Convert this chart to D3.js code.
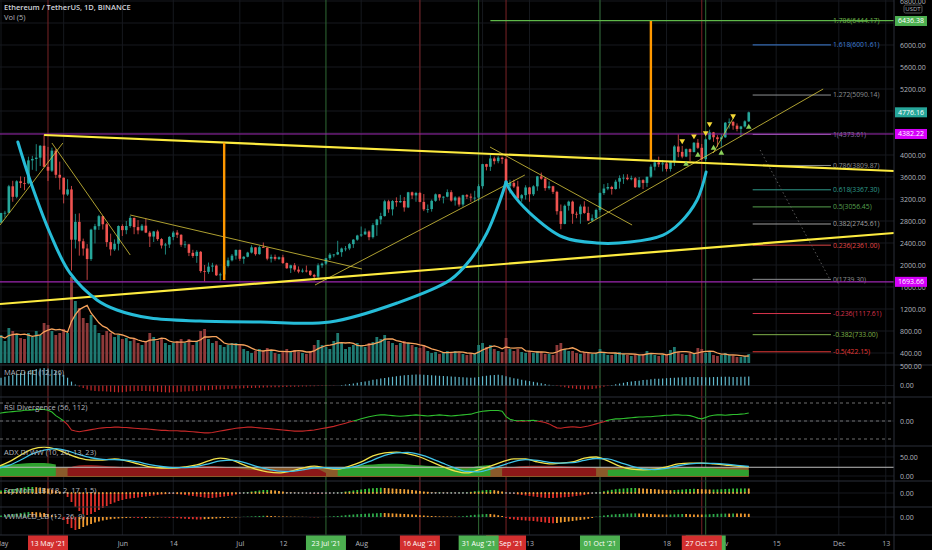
<!DOCTYPE html>
<html lang="en">
<head>
<meta charset="UTF-8">
<title>ETHUSDT 1D</title>
<style>
  body { margin: 0; background: #000; }
  svg { display: block; font-family: "Open Sans", "DejaVu Sans", sans-serif; }
</style>
</head>
<body>
<svg id="chart" width="932" height="550"></svg>
<script src="https://d3js.org/d3.v7.min.js"></script>
<script>
// ---- data ----
const firstDay = "2021-04-30";
const firstOpen = 2757;
const closes = [2772,
  2945,2949,3431,3240,3522,3490,3484,3902,3928,3952,4168,3785,3715,4079,3640,3587,3282,3374,2460,2784,2431,2300,2108,2643,2706,2888,2741,2416,2283,2387,2709,
  2634,2709,2856,2689,2630,2715,2589,2517,2610,2471,2355,2373,2510,2590,2549,2368,2375,2221,2164,2240,1890,1875,1971,1990,1813,1829,1982,2085,2170,2275,
  2113,2150,2226,2321,2197,2324,2316,2115,2147,2111,2140,2035,1941,1995,1916,1880,1898,1894,1820,1788,1995,2025,2123,2188,2191,2233,2300,2300,2380,2461,2536,
  2556,2608,2506,2725,2827,2890,3158,3012,3163,3141,3164,3047,3322,3265,3310,3147,3012,3017,3167,3285,3225,3242,3324,3172,3227,3100,3270,3244,3224,3225,3433,
  3834,3786,3937,3888,3952,3926,3431,3493,3427,3211,3270,3410,3286,3430,3612,3569,3398,3432,3330,2978,2747,3077,3152,2931,2924,3063,2947,2806,2850,3001,
  3308,3390,3418,3382,3515,3580,3587,3560,3577,3415,3543,3492,3605,3788,3866,3830,3847,3747,3876,4155,4057,3972,4106,4053,4223,4131,3925,4284,4411,4322,4288,
  4322,4587,4603,4534,4474,4519,4612,4776.16];
const highs = [2800,
  2950,2985,3457,3531,3542,3611,3600,3970,3985,4197,4180,4372,4147,4134,4112,3880,3590,3560,3437,2930,2940,2480,2380,2660,2748,2912,2890,2765,2570,2465,2720,
  2740,2800,2893,2862,2817,2745,2845,2620,2620,2640,2488,2400,2528,2620,2634,2560,2435,2385,2276,2270,2255,2000,2045,2040,2010,1860,1990,2135,2200,2280,
  2280,2160,2240,2360,2323,2350,2409,2319,2190,2190,2155,2185,2045,2005,2035,1975,1935,1990,1905,1840,2030,2045,2130,2220,2200,2440,2317,2345,2400,2470,2550,
  2700,2665,2630,2760,2840,2950,3185,3185,3180,3230,3275,3235,3330,3335,3330,3330,3290,3100,3190,3300,3290,3250,3375,3360,3250,3250,3280,3290,3300,3350,3470,
  3840,3840,4027,3970,3980,3970,3950,3550,3550,3530,3290,3450,3420,3450,3620,3680,3600,3520,3440,3350,3100,3100,3170,3170,2970,3100,3160,3060,2920,3025,
  3320,3470,3490,3440,3550,3630,3650,3650,3625,3600,3600,3560,3600,3830,3920,3970,3910,3880,3880,4180,4375,4165,4120,4120,4235,4290,4200,4300,4460,4420,4360,
  4380,4600,4665,4615,4575,4530,4630,4790];
const lows = [2722,
  2760,2860,2945,3150,3213,3400,3360,3465,3731,3706,3800,3800,3528,3691,3580,3370,3120,3257,1900,2300,2170,2170,1730,2075,2392,2638,2645,2330,2170,2255,2265,
  2528,2560,2678,2560,2559,2616,2580,2327,2418,2440,2300,2190,2310,2450,2490,2330,2310,2162,2130,2039,1859,1700,1840,1875,1800,1720,1810,1955,2065,2100,
  2075,2022,2140,2210,2170,2187,2310,2085,2045,2080,2090,2020,1930,1855,1880,1850,1860,1865,1800,1718,1760,1950,2000,2090,2140,2180,2150,2250,2270,2310,2440,
  2510,2550,2450,2480,2530,2740,2880,2950,2900,3060,3130,2970,3035,3200,3150,3140,2980,2950,2970,3150,3170,3120,3230,3150,3080,3060,3060,3200,3150,3150,3160,
  3387,3720,3710,3830,3850,3840,3000,3300,3400,3180,3150,3190,3150,3255,3350,3550,3350,3370,3290,2915,2650,2740,2990,2750,2850,2750,2930,2800,2790,2840,
  2965,3275,3360,3280,3370,3390,3475,3540,3540,3400,3400,3380,3420,3580,3720,3780,3700,3700,3700,3800,3960,3940,3960,3890,4050,4110,3900,3890,4270,4240,4150,
  4150,4310,4480,4460,4430,4330,4500,4600];
// daily volume, thousand ETH
const volumes = [1125,1260,990,1575,1440,1260,1125,1080,1350,1170,1440,1260,1800,
  1710,1440,1260,1350,1530,1350,3870,2790,2475,2025,1800,2160,1710,1350,1260,1440,1350,1170,1260,
  1080,1125,990,1080,900,810,990,1350,1170,990,1080,900,810,900,990,1080,
  900,1080,810,990,1440,1530,1080,900,990,810,720,810,900,900,810,
  630,540,450,540,630,540,675,540,450,405,540,630,540,585,495,450,405,540,810,
  1035,810,720,630,990,1350,900,630,720,810,900,810,720,900,945,
  1170,1080,1260,990,900,810,900,990,900,810,720,675,810,540,450,495,
  405,450,540,495,540,450,405,360,450,405,
  810,900,720,810,630,540,495,1125,630,540,630,495,450,540,
  450,540,495,405,405,360,810,900,630,540,540,450,405,495,450,405,
  450,630,450,360,360,450,495,405,360,315,405,360,405,540,450,360,315,360,
  360,585,720,495,405,360,450,405,675,630,450,
  495,360,315,360,450,360,315,270,270,315,405];

// MACD 4C histogram
const macdHist = [175,200,225,250,275,300,325,350,375,400,425,438,450,
  438,413,375,325,275,200,100,25,-25,-63,-100,-125,-138,-150,
  -150,-155,-163,-170,-175,-170,-163,-150,-145,-138,-138,-143,-150,-155,-163,-170,-175,-180,-175,-170,-163,-155,-150,-145,-138,-130,-125,-120,-113,-105,-100,-95,-90,-85,
  -80,-75,-70,-65,-63,-60,-55,-50,-50,-45,-45,-43,-40,-38,-35,-33,-30,
  -25,-23,-20,-18,-15,-13,-10,-8,-5,-3,13,25,
  38,50,70,88,105,125,145,163,180,195,210,225,238,250,260,268,275,280,
  280,275,270,263,255,250,245,238,230,225,220,213,205,200,
  205,220,238,250,263,270,275,
  263,238,213,188,170,150,130,113,95,75,55,38,20,5,
  -13,-25,-45,-63,-75,-88,-95,-100,-95,-88,-75,-55,-35,-15,
  13,30,50,70,88,100,113,125,138,150,163,170,175,
  180,188,195,200,205,210,213,215,220,220,215,210,213,218,220,225,225,223,220,220,223,225,230];

// RSI Divergence (56, 112)
const rsiDiv = [20,22,24,25,26,27,28,30,30,31,32,33,32,30,25,15,8,0,-10,-25,
  -28,-30,-28,-26,-24,-22,-20,-19,-18,-18,-17,-17,-18,-18,-19,-20,
  -21,-22,-22,-23,-24,-25,-26,-26,-27,-27,-27,-28,-28,-29,-30,-31,-32,-33,-33,-32,
  -30,-28,-26,-24,-22,-20,-19,-18,-17,-17,-18,-19,-20,-21,-22,-23,-24,-25,-26,-27,-28,-28,
  -28,-27,-26,-25,-23,-21,-19,-17,-15,-12,-9,-6,-3,0,3,
  6,9,12,14,16,17,17,
  16,15,14,13,14,15,16,17,16,15,14,15,16,17,16,15,14,15,16,17,18,19,
  22,25,27,28,29,29,29,27,12,5,2,0,1,0,
  1,2,0,-2,-4,-8,-14,-19,-20,-18,-17,-16,-17,-18,-16,-14,-11,-8,-5,-2,2,
  4,6,6,7,8,9,10,11,11,12,12,13,14,15,16,16,17,17,16,16,15,12,8,6,
  10,14,16,17,17,16,17,18,18,19,20,22];

// ADX DI WW, read every 3rd day
const adxStep = 3;
const adxLine = [24,37,55,71,76,71,58,47,42,42,45,40,32,24,21,21,24,29,40,47,42,29,18,11,8,13,21,26,21,18,26,37,53,61,63,58,50,37,24,13,8,16,26,37,45,45,37,32,34,37,47,50,40,26,18,16,18,24,32,34,34,32,29,26,24];
const adxSignal = [20,28,42,58,68,72,66,56,48,44,43,42,37,30,25,22,22,25,32,40,42,36,26,18,13,12,16,21,22,20,22,30,42,54,61,62,56,46,33,21,12,11,18,28,38,43,41,36,34,35,41,46,45,36,26,19,17,20,27,32,34,33,31,28,25];
const diSpread = [28,30,32,34,34,30,-20,-28,-29,-27,-25,-23,-22,-21,-20,-20,-22,-24,-26,-25,-22,-18,-16,-15,-15,-16,-18,-20,-8,18,24,28,30,32,32,30,28,26,24,22,20,26,29,-20,-24,-26,-27,-27,-26,-25,-24,-20,16,18,20,20,19,18,20,22,22,20,18,17,16];
const adxKeyLevel = 23;

// SqzMom_LB (18, 2, 17, 1.5)
const sqzMom = [20,25,30,35,40,45,50,55,60,60,58,55,50,45,35,25,15,5,
  -40,-90,-140,-180,-210,-220,-210,-190,
  -170,-150,-130,-110,-95,-80,-70,-60,-55,-50,-45,
  -40,-35,-30,-25,-20,-15,-12,-10,-10,-12,-15,-20,
  -25,-30,-35,-40,-45,-50,-50,-45,-40,-35,-30,-25,-15,-5,
  5,10,15,20,25,30,30,28,25,20,15,10,8,5,3,
  2,-2,-5,-8,-10,-8,-5,-2,2,5,10,
  15,20,25,30,35,40,45,48,50,52,50,48,45,42,40,38,35,30,25,20,15,
  12,10,8,8,6,5,5,4,4,5,8,12,18,
  22,26,30,30,28,22,15,
  5,-5,-10,-15,-20,-25,-30,-35,-40,-45,-48,-50,-50,-48,-45,-42,-40,-35,-30,-25,-20,-12,-5,
  5,10,18,25,32,38,42,45,48,50,50,48,45,42,40,38,35,32,30,28,30,32,35,38,40,42,40,38,36,35,35,36,38,40,42,44,45,46,46,45];

// VWMACD_LB (12, 26, 9)
const vwmacdHist = [10,15,20,25,30,35,40,45,50,50,48,45,40,30,20,10,0,
  -30,-70,-110,-130,-120,-100,-85,-70,-55,-45,-35,-28,-22,-18,
  -15,-12,-10,-8,-8,-10,-12,-10,-8,-6,-5,-5,-6,-8,-10,-12,-15,-18,
  -20,-22,-25,-25,-22,-20,-18,-15,-12,-10,-8,-6,-4,-2,
  2,4,6,8,10,12,12,10,8,6,5,4,3,3,2,
  2,1,-2,-3,-2,0,2,5,8,
  10,14,18,22,25,28,30,32,34,36,38,40,40,38,36,34,32,30,28,25,22,18,15,12,
  10,8,6,5,5,4,4,5,8,12,18,22,
  25,28,30,30,25,18,10,
  -10,-20,-25,-30,-32,-35,-38,-40,-45,-50,-55,-60,-62,-60,-55,-50,-45,-40,-35,-30,-25,-18,-10,
  2,8,14,20,25,28,30,32,34,35,36,35,34,32,30,28,26,25,24,25,26,28,30,30,28,26,25,25,26,28,30,32,33,34,34,35,35,34,33,32];

// price scale: grid at every 400, labels where no badge hides them
const priceGrid = [400,800,1200,1600,2000,2400,2800,3200,3600,4000,4400,4800,5200,5600,6000,6400,6800];
const priceLabels = [400,800,1200,1600,2000,2400,2800,3200,3600,4000,5200,5600,6000,6800];
// grid ticks of the time scale; some of their labels sit under the date boxes
const gridDates = ["2021-05-01","2021-05-17","2021-06-01","2021-06-14","2021-07-01","2021-07-12","2021-08-01","2021-08-16",
  "2021-09-01","2021-09-13","2021-10-01","2021-10-18","2021-11-01","2021-11-15","2021-12-01","2021-12-13"];
const timeLabelDates = ["2021-05-01","2021-06-01","2021-06-14","2021-07-01","2021-07-12","2021-08-01",
  "2021-09-13","2021-10-18","2021-11-01","2021-11-15","2021-12-01","2021-12-13"];
const timeLabels = ["May","Jun","14","Jul","12","Aug","13","18","Nov","15","Dec","13"];

const eventDates = ["2021-05-13","2021-07-23","2021-08-16","2021-09-07","2021-08-31","2021-10-01","2021-10-28","2021-10-27"];
const eventLabels = ["13 May '21","23 Jul '21","16 Aug '21","07 Sep '21","31 Aug '21","01 Oct '21","28 Oct '21","27 Oct '21"];
const eventKinds = ["down","up","down","down","up","up","up","down"];

const fibRatios = [1.786, 1.618, 1.272, 1, 0.786, 0.618, 0.5, 0.382, 0.236, 0, -0.236, -0.382, -0.5];
const fibPrices = [6444.17, 6001.61, 5090.14, 4373.61, 3809.87, 3367.30, 3056.45, 2745.61, 2361.00, 1739.30, 1117.61, 733.00, 422.15];
const fibSpan = [193, 213];          // day offsets of the fib drawing
const fibTopFrom = 126;              // 1.786 level is drawn from here

const levelPrices = [4382.22, 1693.66];
const lastPrice = 4776.16;
const fibBadgePrice = 6436.38;

// drawings: [dayOffset, price] pairs
const channelLines = [[[12, 4364], [229.1, 3709]], [[0.74, 1291], [229.1, 2582]]];
const trendLines = [
  [[0.74, 2727], [16.8, 4218]],
  [[14.0, 4218], [34.0, 2182]],
  [[34.0, 2909], [93.2, 1927]],
  [[81.2, 1636], [134.8, 3636]],
  [[125.9, 4145], [162.2, 2727]],
  [[150.9, 2745], [211.0, 5200]],
  [[182.9, 4036], [188.5, 4727]]];
const projection = [[194.9, 4091], [212.8, 1727]];
const cupLeft = [[5.3,4236],[8.4,3545],[13.5,2582],[18.6,1855],[25.5,1364],[30.6,1182],[39.1,1036],[51.8,982],
  [67.2,964],[85.0,964],[102.2,1309],[115.7,1727],[120.8,2091],[125.1,2582],[128.5,3182],[130.0,3509]];
const cupRight = [[130.0,3509],[131.0,3364],[136.1,2945],[144.5,2509],[153.2,2400],[161.7,2418],[170.1,2545],
  [174.4,2764],[178.8,3182],[181.1,3691]];
const measureBars = [[58, 4224, 1727], [167, 6436, 3909]];
const sellMarks = [[175, 4255], [178, 4345], [181, 4400], [182, 4564], [188, 4709]];
const buyMarks = [[176, 3836], [179, 4000], [183, 4127], [185, 4036], [192, 4509]];

// ---- styles ----
const W = 932, plotW = 894;
const upC = "#26a69a", downC = "#ef5350";
const gridC = "#16191e", sepC = "#2a2e39", textC = "#b2b5be";
const fibColors = ["#6fb94a","#3f7fd6","#8d9092","#8d7aa8","#8d9092","#2f9c8c","#56a04e","#a0a0a0","#e04848","#8d9092","#d8344c","#7fb14a","#e53935"];
const boxW = 40;

const parse = d3.utcParse("%Y-%m-%d");
const day0 = parse(firstDay);
const at = d => new Date(day0.getTime() + d * 864e5);

const bars = closes.map((c, i) => {
  const o = i ? closes[i - 1] : firstOpen;
  return { t: at(i), o, c, h: Math.max(highs[i], o, c), l: Math.min(lows[i], o, c), v: volumes[i] };
});

const x = d3.scaleUtc().domain([at(0.74), at(229.1)]).range([0, plotW]);
const y = d3.scaleLinear().domain([0, 6000]).range([375, 45]);
const yVol = d3.scaleLinear().domain([0, 4500]).range([363, 263]);
const yMacd = d3.scaleLinear().domain([0, 500]).range([385.5, 366]);
const yRsi = d3.scaleLinear().domain([-50, 50]).range([439, 403]);
const yAdx = d3.scaleLinear().domain([0, 50]).range([476, 457]);
const ySqz = d3.scaleLinear().domain([-250, 150]).range([518, 478]);
const yVw = d3.scaleLinear().domain([-200, 150]).range([537, 502]);

const svg = d3.select("#chart");
svg.append("rect").attr("width", W).attr("height", 550).attr("fill", "#000");

const defs = svg.append("defs");
defs.append("clipPath").attr("id", "mainClip").append("rect").attr("width", plotW).attr("height", 365);
defs.append("clipPath").attr("id", "rsiUp").append("rect").attr("y", 397).attr("width", plotW).attr("height", yRsi(0) - 397);
defs.append("clipPath").attr("id", "rsiDn").append("rect").attr("y", yRsi(0)).attr("width", plotW).attr("height", 446 - yRsi(0));
defs.append("clipPath").attr("id", "plotClip").append("rect").attr("width", plotW).attr("height", 535);

// grid
const grid = svg.append("g").attr("clip-path", "url(#plotClip)");
grid.selectAll(".vg").data(gridDates).join("line")
  .attr("x1", d => x(parse(d))).attr("x2", d => x(parse(d)))
  .attr("y1", 0).attr("y2", 535).attr("stroke", gridC);
grid.selectAll(".hg").data(priceGrid).join("line")
  .attr("x1", 0).attr("x2", plotW).attr("y1", y).attr("y2", y).attr("stroke", gridC);
[[yMacd, 0], [yRsi, 0], [yAdx, 50], [yAdx, 0], [ySqz, 0], [yVw, 0]].forEach(([s, v]) => {
  grid.append("line").attr("x1", 0).attr("x2", plotW).attr("y1", s(v)).attr("y2", s(v)).attr("stroke", gridC);
});

// event verticals
grid.selectAll(".ev").data(eventDates).join("line")
  .attr("x1", d => x(parse(d))).attr("x2", d => x(parse(d)))
  .attr("y1", 0).attr("y2", 535)
  .attr("stroke", (d, i) => eventKinds[i] === "up" ? "#2f6a34" : "#7a2326").attr("stroke-width", 1);

// ---- main pane ----
const main = svg.append("g").attr("clip-path", "url(#mainClip)");

main.selectAll(".vol").data(bars).join("rect")
  .attr("x", d => x(d.t) - 1.4).attr("width", 2.8)
  .attr("y", d => yVol(d.v)).attr("height", d => yVol(0) - yVol(d.v))
  .attr("fill", d => d.c >= d.o ? "#1f7a72" : "#8e3a3a");

const volMA = volumes.map((v, i) => d3.mean(volumes.slice(Math.max(0, i - 4), i + 1)));
main.append("path").datum(volMA)
  .attr("d", d3.line().x((v, i) => x(at(i))).y(v => yVol(v)))
  .attr("fill", "none").attr("stroke", "#f7a35c").attr("stroke-width", 1.3);

main.selectAll(".wick").data(bars).join("line")
  .attr("x1", d => x(d.t)).attr("x2", d => x(d.t))
  .attr("y1", d => y(d.h)).attr("y2", d => y(d.l))
  .attr("stroke", d => d.c >= d.o ? upC : downC).attr("stroke-width", 0.8);
main.selectAll(".body").data(bars).join("rect")
  .attr("x", d => x(d.t) - 1.3).attr("width", 2.6)
  .attr("y", d => y(Math.max(d.o, d.c)))
  .attr("height", d => Math.max(0.8, Math.abs(y(d.o) - y(d.c))))
  .attr("fill", d => d.c >= d.o ? upC : downC);

// fib retracement
main.append("line")
  .attr("x1", x(at(fibTopFrom))).attr("x2", plotW)
  .attr("y1", y(fibPrices[0])).attr("y2", y(fibPrices[0]))
  .attr("stroke", "#5fb84a").attr("stroke-width", 1.2);
main.selectAll(".fib").data(fibPrices.slice(1)).join("line")
  .attr("x1", x(at(fibSpan[0]))).attr("x2", x(at(fibSpan[1])))
  .attr("y1", y).attr("y2", y)
  .attr("stroke", (d, i) => fibColors[i + 1]).attr("stroke-width", 1);
main.selectAll(".fibt").data(fibPrices).join("text")
  .attr("x", x(at(fibSpan[1])) + 2).attr("y", y).attr("dy", "0.35em")
  .attr("font-size", 6.8).attr("fill", (d, i) => fibColors[i])
  .text((d, i) => `${fibRatios[i]}(${d.toFixed(2)})`);

// horizontal levels
main.selectAll(".lvl").data(levelPrices).join("line")
  .attr("x1", 0).attr("x2", plotW).attr("y1", y).attr("y2", y)
  .attr("stroke", "#9c27b0").attr("stroke-width", 1.2);

const pt = d3.line().x(d => x(at(d[0]))).y(d => y(d[1]));
main.selectAll(".tl").data(trendLines).join("path")
  .attr("d", pt).attr("stroke", "#d9c83c").attr("stroke-width", 0.8).attr("fill", "none");
main.append("path").attr("d", pt(projection))
  .attr("stroke", "#5a5a5a").attr("stroke-width", 1).attr("stroke-dasharray", "1.5,2.5").attr("fill", "none");
main.selectAll(".ch").data(channelLines).join("path")
  .attr("d", pt).attr("stroke", "#fdeb3f").attr("stroke-width", 2.2).attr("fill", "none");

const cup = d3.line().x(d => x(at(d[0]))).y(d => y(d[1])).curve(d3.curveCatmullRom.alpha(0.5));
[cupLeft, cupRight].forEach(c => main.append("path").attr("d", cup(c))
  .attr("fill", "none").attr("stroke", "#26bcd8").attr("stroke-width", 3).attr("stroke-linecap", "round"));

main.selectAll(".mb").data(measureBars).join("line")
  .attr("x1", d => x(at(d[0]))).attr("x2", d => x(at(d[0])))
  .attr("y1", d => y(d[1])).attr("y2", d => y(d[2]))
  .attr("stroke", "#ff9800").attr("stroke-width", 2.4);

const tri = d3.symbol().type(d3.symbolTriangle).size(14);
main.selectAll(".sell").data(sellMarks).join("path")
  .attr("d", tri).attr("fill", "#f5d835")
  .attr("transform", d => `translate(${x(at(d[0]))},${y(d[1])}) rotate(180)`);
main.selectAll(".buy").data(buyMarks).join("path")
  .attr("d", tri).attr("fill", "#8bd05a")
  .attr("transform", d => `translate(${x(at(d[0]))},${y(d[1])})`);

// ---- indicator panes ----
const ind = svg.append("g").attr("clip-path", "url(#plotClip)");
const firstX = Math.max(0, x(at(0))), lastX = x(at(closes.length - 1));

// MACD histogram
ind.selectAll(".macd").data(macdHist).join("line")
  .attr("x1", (v, i) => x(at(i))).attr("x2", (v, i) => x(at(i)))
  .attr("y1", yMacd(0)).attr("y2", v => yMacd(v))
  .attr("stroke", v => v >= 0 ? "#5fb8cc" : "#c62828").attr("stroke-width", 1.2);

// RSI divergence
[-50, 0, 50].forEach(v => ind.append("line")
  .attr("x1", 0).attr("x2", plotW).attr("y1", yRsi(v)).attr("y2", yRsi(v))
  .attr("stroke", "#8a8a8a").attr("stroke-dasharray", "3,3").attr("stroke-width", 0.8));
const rsiPath = d3.line().x((v, i) => x(at(i))).y(v => yRsi(v))(rsiDiv);
ind.append("path").attr("d", rsiPath).attr("clip-path", "url(#rsiUp)")
  .attr("fill", "none").attr("stroke", "#2fbf2f").attr("stroke-width", 1.1);
ind.append("path").attr("d", rsiPath).attr("clip-path", "url(#rsiDn)")
  .attr("fill", "none").attr("stroke", "#c62828").attr("stroke-width", 1.1);

// ADX DI
const ax = (v, k) => x(at(k * adxStep));
ind.append("rect").attr("x", firstX).attr("width", lastX - firstX)
  .attr("y", yAdx(adxKeyLevel)).attr("height", yAdx(0) - yAdx(adxKeyLevel) + 1)
  .attr("fill", "#8a5a2a");
ind.append("path").datum(diSpread)
  .attr("d", d3.area().defined(v => v >= 0).x(ax).y0(yAdx(0)).y1(v => yAdx(v)).curve(d3.curveMonotoneX))
  .attr("fill", "#2fa12f");
ind.append("path").datum(diSpread)
  .attr("d", d3.area().defined(v => v <= 0).x(ax).y0(yAdx(0)).y1(v => yAdx(-v)).curve(d3.curveMonotoneX))
  .attr("fill", "#8c1818");
ind.append("line").attr("x1", 0).attr("x2", plotW)
  .attr("y1", yAdx(adxKeyLevel)).attr("y2", yAdx(adxKeyLevel))
  .attr("stroke", "#bdbdbd").attr("stroke-width", 1);
const adxPath = d3.line().x(ax).y(v => yAdx(v)).curve(d3.curveMonotoneX);
ind.append("path").datum(adxLine).attr("d", adxPath)
  .attr("fill", "none").attr("stroke", "#f2e24a").attr("stroke-width", 1.3);
ind.append("path").datum(adxSignal).attr("d", adxPath)
  .attr("fill", "none").attr("stroke", "#3fc4ea").attr("stroke-width", 1.3);

// squeeze momentum
ind.selectAll(".sqz").data(sqzMom).join("line")
  .attr("x1", (v, i) => x(at(i))).attr("x2", (v, i) => x(at(i)))
  .attr("y1", ySqz(0)).attr("y2", v => ySqz(v))
  .attr("stroke", (v, i) => v < 0 ? "#e0302a" : (i && v < sqzMom[i - 1] ? "#f0a43a" : "#3cc43c"))
  .attr("stroke-width", 1.8);
ind.selectAll(".sqd").data(sqzMom).join("circle")
  .attr("cx", (v, i) => x(at(i))).attr("cy", ySqz(0)).attr("r", 0.9)
  .attr("fill", v => Math.abs(v) < 12 ? "#9a9a9a" : "#f0a43a");

// VWMACD
ind.selectAll(".vw").data(vwmacdHist).join("line")
  .attr("x1", (v, i) => x(at(i))).attr("x2", (v, i) => x(at(i)))
  .attr("y1", yVw(0)).attr("y2", v => yVw(v))
  .attr("stroke", (v, i) => {
    const rising = i && v > vwmacdHist[i - 1];
    if (v >= 0) return rising ? "#2ea84a" : "#f29a2e";
    return rising ? "#f29a2e" : "#e0302a";
  })
  .attr("stroke-width", 1.8);

// pane separators and price scale border
[365, 397, 446, 481, 507, 535].forEach(v => svg.append("line")
  .attr("x1", 0).attr("x2", W).attr("y1", v).attr("y2", v).attr("stroke", sepC));
svg.append("line").attr("x1", plotW).attr("x2", plotW).attr("y1", 0).attr("y2", 550).attr("stroke", sepC);

// ---- axes ----
const fmt = d3.format(".2f");
function rightAxis(scale, ticks) {
  svg.append("g").attr("transform", `translate(${plotW},0)`)
    .call(d3.axisRight(scale).tickValues(ticks).tickSize(0).tickPadding(6).tickFormat(fmt))
    .call(g => g.select(".domain").remove())
    .attr("font-size", 7).attr("font-family", null).attr("color", textC);
}
rightAxis(y, priceLabels);
rightAxis(yMacd, [0, 500]);
rightAxis(yRsi, [0]);
rightAxis(yAdx, [0, 50]);
rightAxis(ySqz, [0]);
rightAxis(yVw, [0]);

svg.append("g").attr("transform", "translate(0,538)")
  .call(d3.axisBottom(x).tickValues(timeLabelDates.map(parse)).tickSize(0).tickPadding(3)
    .tickFormat((d, i) => timeLabels[i]))
  .call(g => g.select(".domain").remove())
  .attr("font-size", 7).attr("font-family", null).attr("color", textC);

// event date boxes; a box drawn later hides the part of an earlier one it covers
const evG = svg.append("g");
const boxX = eventDates.map(d => x(parse(d)));
eventDates.forEach((d, i) => {
  const cx = boxX[i];
  let left = cx - boxW / 2, right = cx + boxW / 2;
  boxX.slice(i + 1).forEach(o => {
    if (Math.abs(o - cx) < boxW) {
      if (o < cx) left = Math.max(left, o + boxW / 2);
      else right = Math.min(right, o - boxW / 2);
    }
  });
  evG.append("rect").attr("x", cx - boxW / 2).attr("y", 535.5).attr("width", boxW).attr("height", 14.5)
    .attr("fill", eventKinds[i] === "up" ? "#4caf50" : "#d32f2f");
  defs.append("clipPath").attr("id", "ev" + i).append("rect")
    .attr("x", left).attr("y", 535).attr("width", Math.max(0, right - left)).attr("height", 15);
  if (right - left > boxW / 3) {
    evG.append("text").attr("x", cx).attr("y", 545.5).attr("text-anchor", "middle")
      .attr("clip-path", `url(#ev${i})`)
      .attr("font-size", 7).attr("fill", "#fff").text(eventLabels[i]);
  }
});

// price badges
const badges = [[fibBadgePrice, "#4caf50"], [lastPrice, "#26a69a"], [levelPrices[0], "#d500f9"], [levelPrices[1], "#d500f9"]];
badges.forEach(([p, c]) => {
  svg.append("rect").attr("x", plotW + 1).attr("y", y(p) - 5).attr("width", 32).attr("height", 10).attr("fill", c);
  svg.append("text").attr("x", plotW + 17).attr("y", y(p)).attr("dy", "0.35em").attr("text-anchor", "middle")
    .attr("font-size", 7).attr("fill", "#fff").text(fmt(p));
});
svg.append("rect").attr("x", 904).attr("y", 5).attr("width", 18).attr("height", 8)
  .attr("fill", "#000").attr("stroke", "#555").attr("rx", 1.5);
svg.append("text").attr("x", 913).attr("y", 11.3).attr("text-anchor", "middle")
  .attr("font-size", 6).attr("fill", textC).text("USDT");

// legends
const legend = [[4, 10, "Ethereum / TetherUS, 1D, BINANCE", "#d1d4dc", 600],
  [4, 20, "Vol (5)", textC, 400],
  [4, 375, "MACD 4C (12, 26)", textC, 400],
  [4, 410, "RSI Divergence (56, 112)", textC, 400],
  [4, 455, "ADX DI WW (10, 20, 13, 23)", textC, 400],
  [4, 493, "SqzMom_LB (18, 2, 17, 1.5)", textC, 400],
  [4, 519, "VWMACD_LB (12, 26, 9)", textC, 400]];
legend.forEach(([lx, ly, t, c, w]) => svg.append("text").attr("x", lx).attr("y", ly)
  .attr("font-size", 7.5).attr("font-weight", w).attr("fill", c).text(t));
</script>
</body>
</html>
